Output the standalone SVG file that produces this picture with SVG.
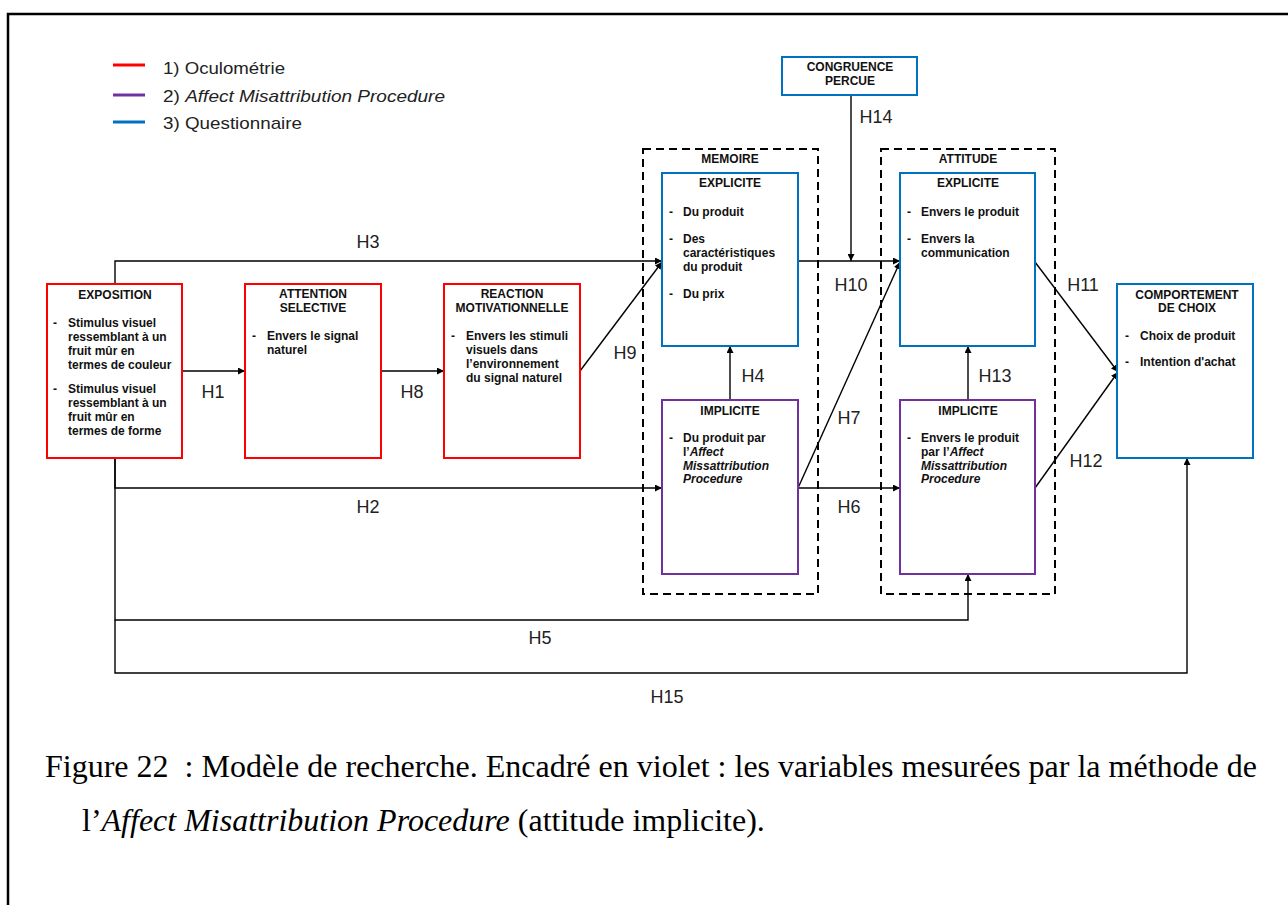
<svg xmlns="http://www.w3.org/2000/svg" width="1288" height="905" viewBox="0 0 1288 905">
<style>
.frame{fill:none;stroke:#000;stroke-width:2.5}
.red{fill:#fff;stroke:#FF0000;stroke-width:2}
.pur{fill:#fff;stroke:#7030A0;stroke-width:2}
.blu{fill:#fff;stroke:#0070C0;stroke-width:2}
.dash{fill:none;stroke:#000;stroke-width:2;stroke-dasharray:8,5}
.t{font-family:"Liberation Sans",Arial,sans-serif;font-size:12px;font-weight:bold;fill:#111}
.c{text-anchor:middle}
.i{font-style:italic}
.lab{font-family:"Liberation Sans",Arial,sans-serif;font-size:18px;fill:#222}
.leg{font-family:"Liberation Sans",Arial,sans-serif;font-size:17px;fill:#222}
.cap{font-family:"Liberation Serif","Times New Roman",serif;font-size:32px;fill:#000}
.ln{fill:none;stroke:#000;stroke-width:1.4}
</style>
<defs>
<marker id="ah" viewBox="0 0 10 10" refX="10" refY="5" markerWidth="7" markerHeight="7" markerUnits="userSpaceOnUse" orient="auto">
<path d="M0,0 L10,5 L0,10 z" fill="#000"/>
</marker>
</defs>
<rect width="1288" height="905" fill="#fff"/>
<rect class="frame" x="8" y="14" width="1300" height="920"/>

<g id="legend">
<line x1="113" y1="65" x2="145" y2="65" stroke="#FF0000" stroke-width="3"/>
<line x1="113" y1="95" x2="145" y2="95" stroke="#7030A0" stroke-width="3"/>
<line x1="113" y1="122" x2="145" y2="122" stroke="#0070C0" stroke-width="3"/>
<text class="leg" x="163" y="74" textLength="122" lengthAdjust="spacingAndGlyphs">1) Oculométrie</text>
<text class="leg" x="163" y="102" textLength="282" lengthAdjust="spacingAndGlyphs">2) <tspan class="i">Affect Misattribution Procedure</tspan></text>
<text class="leg" x="163" y="129" textLength="139" lengthAdjust="spacingAndGlyphs">3) Questionnaire</text>
</g>

<g id="connectors">
<line class="ln" x1="182" y1="371" x2="245" y2="371" marker-end="url(#ah)"/>
<line class="ln" x1="381" y1="371" x2="444" y2="371" marker-end="url(#ah)"/>
<line class="ln" x1="580" y1="371" x2="662" y2="262" marker-end="url(#ah)"/>
<polyline class="ln" points="115,284 115,261 662,261" marker-end="url(#ah)"/>
<polyline class="ln" points="115,458 115,488 662,488" marker-end="url(#ah)"/>
<polyline class="ln" points="115,458 115,620 968,620 968,574" marker-end="url(#ah)"/>
<polyline class="ln" points="115,620 115,673 1187,673 1187,458" marker-end="url(#ah)"/>
<line class="ln" x1="730" y1="400" x2="730" y2="346" marker-end="url(#ah)"/>
<line class="ln" x1="968" y1="400" x2="968" y2="346" marker-end="url(#ah)"/>
<line class="ln" x1="798" y1="261" x2="900" y2="261" marker-end="url(#ah)"/>
<line class="ln" x1="851" y1="95" x2="851" y2="261" marker-end="url(#ah)"/>
<line class="ln" x1="798" y1="488" x2="900" y2="262" marker-end="url(#ah)"/>
<line class="ln" x1="798" y1="488" x2="900" y2="488" marker-end="url(#ah)"/>
<line class="ln" x1="1035" y1="262" x2="1118" y2="372" marker-end="url(#ah)"/>
<line class="ln" x1="1035" y1="488" x2="1118" y2="372" marker-end="url(#ah)"/>
<text class="lab c" x="213" y="398">H1</text>
<text class="lab c" x="412" y="398">H8</text>
<text class="lab c" x="625" y="359">H9</text>
<text class="lab c" x="368" y="248">H3</text>
<text class="lab c" x="368" y="513">H2</text>
<text class="lab c" x="540" y="644">H5</text>
<text class="lab c" x="667" y="703">H15</text>
<text class="lab c" x="753" y="382">H4</text>
<text class="lab c" x="995" y="382">H13</text>
<text class="lab c" x="851" y="291">H10</text>
<text class="lab c" x="876" y="123">H14</text>
<text class="lab c" x="849" y="424">H7</text>
<text class="lab c" x="849" y="513">H6</text>
<text class="lab c" x="1083" y="291">H11</text>
<text class="lab c" x="1086" y="467">H12</text>
</g>

<g id="exposition">
<rect class="red" x="47" y="284" width="135" height="174"/>
<text class="t c" x="115" y="299">EXPOSITION</text>
<text class="t" x="53" y="327">-</text>
<text class="t" x="68" y="327">Stimulus visuel</text>
<text class="t" x="68" y="341">ressemblant à un</text>
<text class="t" x="68" y="355">fruit mûr en</text>
<text class="t" x="68" y="369">termes de couleur</text>
<text class="t" x="53" y="393">-</text>
<text class="t" x="68" y="393">Stimulus visuel</text>
<text class="t" x="68" y="407">ressemblant à un</text>
<text class="t" x="68" y="421">fruit mûr en</text>
<text class="t" x="68" y="435">termes de forme</text>
</g>

<g id="attention">
<rect class="red" x="245" y="284" width="136" height="174"/>
<text class="t c" x="313" y="298">ATTENTION</text>
<text class="t c" x="313" y="312">SELECTIVE</text>
<text class="t" x="252" y="340">-</text>
<text class="t" x="267" y="340">Envers le signal</text>
<text class="t" x="267" y="354">naturel</text>
</g>

<g id="reaction">
<rect class="red" x="444" y="284" width="136" height="174"/>
<text class="t c" x="512" y="298">REACTION</text>
<text class="t c" x="512" y="312">MOTIVATIONNELLE</text>
<text class="t" x="451" y="340">-</text>
<text class="t" x="466" y="340">Envers les stimuli</text>
<text class="t" x="466" y="354">visuels dans</text>
<text class="t" x="466" y="368">l’environnement</text>
<text class="t" x="466" y="382">du signal naturel</text>
</g>

<g id="memoire">
<rect class="dash" x="643" y="149" width="175" height="445"/>
<text class="t c" x="730" y="163">MEMOIRE</text>
</g>

<g id="memoire-explicite">
<rect class="blu" x="662" y="173" width="136" height="173"/>
<text class="t c" x="730" y="187">EXPLICITE</text>
<text class="t" x="669" y="216">-</text>
<text class="t" x="683" y="216">Du produit</text>
<text class="t" x="669" y="243">-</text>
<text class="t" x="683" y="243">Des</text>
<text class="t" x="683" y="257">caractéristiques</text>
<text class="t" x="683" y="271">du produit</text>
<text class="t" x="669" y="298">-</text>
<text class="t" x="683" y="298">Du prix</text>
</g>

<g id="memoire-implicite">
<rect class="pur" x="662" y="400" width="136" height="174"/>
<text class="t c" x="730" y="415">IMPLICITE</text>
<text class="t" x="669" y="442">-</text>
<text class="t" x="683" y="442">Du produit par</text>
<text class="t" x="683" y="456">l’<tspan class="i">Affect</tspan></text>
<text class="t i" x="683" y="470">Missattribution</text>
<text class="t i" x="683" y="483">Procedure</text>
</g>

<g id="attitude">
<rect class="dash" x="881" y="149" width="174" height="445"/>
<text class="t c" x="968" y="163">ATTITUDE</text>
</g>

<g id="attitude-explicite">
<rect class="blu" x="900" y="173" width="135" height="173"/>
<text class="t c" x="968" y="187">EXPLICITE</text>
<text class="t" x="907" y="216">-</text>
<text class="t" x="921" y="216">Envers le produit</text>
<text class="t" x="907" y="243">-</text>
<text class="t" x="921" y="243">Envers la</text>
<text class="t" x="921" y="257">communication</text>
</g>

<g id="attitude-implicite">
<rect class="pur" x="900" y="400" width="135" height="174"/>
<text class="t c" x="968" y="415">IMPLICITE</text>
<text class="t" x="907" y="442">-</text>
<text class="t" x="921" y="442">Envers le produit</text>
<text class="t" x="921" y="456">par l’<tspan class="i">Affect</tspan></text>
<text class="t i" x="921" y="470">Missattribution</text>
<text class="t i" x="921" y="483">Procedure</text>
</g>

<g id="congruence">
<rect class="blu" x="782" y="57" width="135" height="38"/>
<text class="t c" x="850" y="71">CONGRUENCE</text>
<text class="t c" x="850" y="85">PERCUE</text>
</g>

<g id="comportement">
<rect class="blu" x="1117" y="284" width="136" height="174"/>
<text class="t c" x="1187" y="299">COMPORTEMENT</text>
<text class="t c" x="1187" y="312">DE CHOIX</text>
<text class="t" x="1125" y="340">-</text>
<text class="t" x="1140" y="340">Choix de produit</text>
<text class="t" x="1125" y="366">-</text>
<text class="t" x="1140" y="366">Intention d'achat</text>
</g>

<g id="caption">
<text class="cap" x="45" y="777">Figure 22&#160;&#160;: Modèle de recherche. Encadré en violet : les variables mesurées par la méthode de</text>
<text class="cap" x="82" y="831">l’<tspan font-style="italic">Affect Misattribution Procedure</tspan> (attitude implicite).</text>
</g>
</svg>
